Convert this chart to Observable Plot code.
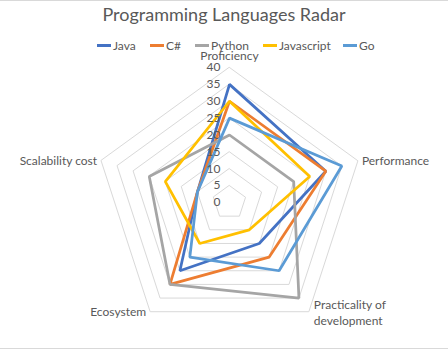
<!DOCTYPE html>
<html>
<head>
<meta charset="utf-8">
<script src="https://cdn.jsdelivr.net/npm/d3@7"></script>
<script src="https://cdn.jsdelivr.net/npm/@observablehq/plot@0.6"></script>
<style>
  body { margin: 0; background: #fff; font-family: Lato, "Liberation Sans", sans-serif; }
  #wrap { position: relative; width: 448px; height: 350px; overflow: hidden; }
  #topline { position: absolute; left: 0; top: 0; width: 448px; height: 1px; background: #D9D9D9; }
  #botline { position: absolute; left: 0; top: 348px; width: 448px; height: 1px; background: #D9D9D9; }
  #header { position: relative; height: 50px; }
  #title { position: absolute; left: 0; width: 448px; top: 3px; text-align: center; font-size: 18px; color: #595959; }
  .leg { position: absolute; top: 39px; font-size: 12px; color: #595959; white-space: nowrap; line-height: 14px; }
  .sw { display: inline-block; width: 14px; height: 3px; vertical-align: middle; margin-right: 2px; position: relative; top: -1px; }
  #chart svg { display: block; }
</style>
</head>
<body>
<div id="wrap">
  <div id="topline"></div>
  <div id="header">
    <div id="title">Programming Languages Radar</div>
    <div id="legend"></div>
  </div>
  <div id="chart"></div>
  <div id="botline"></div>
</div>
<script>
const axesNames = ["Proficiency", "Performance", "Practicality of\ndevelopment", "Ecosystem", "Scalability cost"];
const seriesNames = ["Java", "C#", "Python", "Javascript", "Go"];
const seriesColors = ["#4472C4", "#ED7D31", "#A5A5A5", "#FFC000", "#5B9BD5"];
const java = [35, 30, 15, 25, 10];
const csharp = [30, 30, 20, 30, 10];
const python = [20, 20, 35, 30, 25];
const javascript = [30, 25, 10, 15, 20];
const go = [25, 35, 25, 20, 10];
const tickValues = [0, 5, 10, 15, 20, 25, 30, 35, 40];
const maxValue = 40;

const seriesValues = [java, csharp, python, javascript, go];
const n = axesNames.length;
const ang = i => (i * 2 * Math.PI) / n;
const px = (v, i) => v * Math.sin(ang(i));
const py = (v, i) => v * Math.cos(ang(i));

const seriesData = [];
seriesValues.forEach((vals, s) => {
  vals.forEach((v, i) => seriesData.push({series: seriesNames[s], axis: axesNames[i], x: px(v, i), y: py(v, i)}));
});

const ringData = [];
tickValues.filter(t => t > 0).forEach(t => {
  for (let i = 0; i < n; i++) ringData.push({ring: t, x: px(t, i), y: py(t, i)});
});

const tickData = tickValues.map(t => ({t, x: 0, y: t}));
const labelData = axesNames.map((name, i) => ({name, i, x: px(maxValue, i), y: py(maxValue, i)}));

const cx = 229, cy = 152, R = 135;

const legendPos = [97, 150, 195, 263, 343];
const legend = document.getElementById("legend");
seriesNames.forEach((name, s) => {
  const d = document.createElement("div");
  d.className = "leg";
  d.style.left = legendPos[s] + "px";
  d.innerHTML = `<span class="sw" style="background:${seriesColors[s]}"></span>${name}`;
  legend.appendChild(d);
});

const labelStyle = {fontSize: 12, fill: "#595959", stroke: "none"};

const chart = Plot.plot({
  width: 448,
  height: 300,
  margin: 0,
  style: {fontFamily: "Lato, 'Liberation Sans', sans-serif", background: "transparent", overflow: "visible"},
  x: {domain: [-maxValue, maxValue], range: [cx - R, cx + R], axis: null},
  y: {domain: [-maxValue, maxValue], range: [cy + R, cy - R], axis: null},
  color: {domain: seriesNames, range: seriesColors},
  marks: [
    Plot.line(ringData, {x: "x", y: "y", z: "ring", curve: "linear-closed", stroke: "#D9D9D9", strokeWidth: 1}),
    Plot.line(seriesData, {x: "x", y: "y", z: "series", stroke: "series", curve: "linear-closed", strokeWidth: 2.75, strokeLinejoin: "miter"}),
    Plot.text(tickData, {x: "x", y: "y", text: d => String(d.t), textAnchor: "end", dx: -9, ...labelStyle}),
    Plot.text(labelData.filter(d => d.i === 0), {x: "x", y: "y", text: "name", dy: -11, textAnchor: "middle", ...labelStyle}),
    Plot.text(labelData.filter(d => d.i === 1), {x: "x", y: "y", text: "name", dx: 4, textAnchor: "start", ...labelStyle}),
    Plot.text(labelData.filter(d => d.i === 2), {x: "x", y: "y", text: "name", dx: 5, textAnchor: "start", lineHeight: 1.35, ...labelStyle}),
    Plot.text(labelData.filter(d => d.i === 3), {x: "x", y: "y", text: "name", dx: -4, textAnchor: "end", ...labelStyle}),
    Plot.text(labelData.filter(d => d.i === 4), {x: "x", y: "y", text: "name", dx: -4, textAnchor: "end", ...labelStyle})
  ]
});
document.getElementById("chart").appendChild(chart);
</script>
</body>
</html>
